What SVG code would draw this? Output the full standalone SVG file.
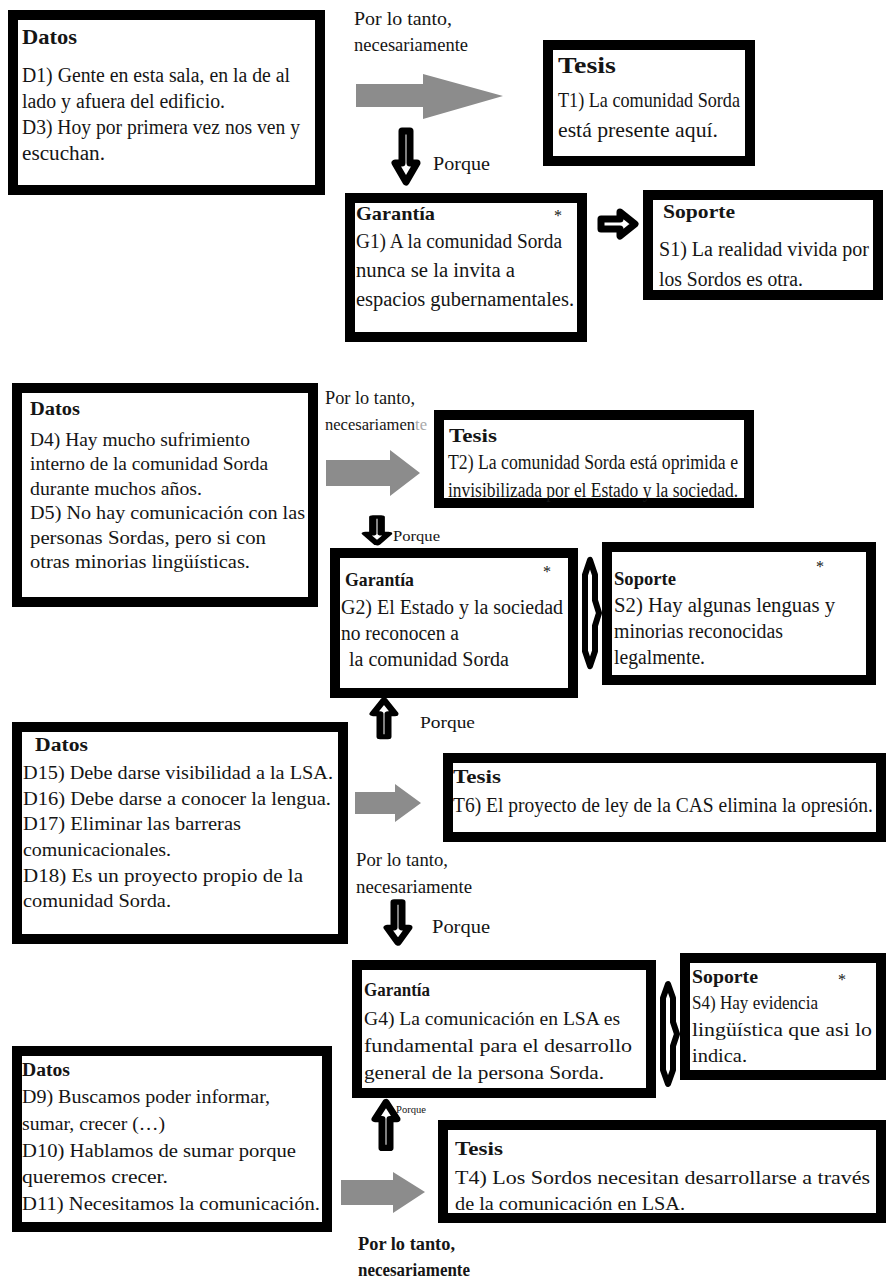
<svg xmlns="http://www.w3.org/2000/svg" xmlns:xlink="http://www.w3.org/1999/xlink" width="890" height="1280" viewBox="0 0 890 1280">
<style>
.box{fill:#fff;stroke:#000;stroke-width:10}
text{font-family:"Liberation Serif","Times New Roman",serif;fill:#151515}
.b{font-weight:bold}
.gray{fill:#8c8c8c}
.oa{fill:#fff;stroke:#000;stroke-width:7;stroke-linejoin:round}
.va{fill:#fff;stroke:#000;stroke-width:6;stroke-linejoin:round}
</style>
<defs>
<path id="dn" class="oa" d="M-4,0 H4 V32 H11 L0,51 L-11,32 H-4 Z"/>
<path id="up" class="oa" d="M-4,51 H4 V19 H11 L0,0 L-11,19 H-4 Z"/>
<path id="rt" class="oa" d="M0,-5 H19 V-12 L34,0 L19,12 V5 H0 Z"/>
<path id="vd" class="va" d="M0,0 L-5,14 V86 L0,100 L5,86 V62 L9,50 L5,38 V14 Z"/>
</defs>
<rect width="890" height="1280" fill="#fff"/>

<g id="connectors">
<polygon class="gray" points="356,84 423,84 423,74 503,96 423,119 423,107 356,107"/>
<use xlink:href="#dn" transform="translate(406,131)"/>
<use xlink:href="#rt" transform="translate(601,224)"/>
<polygon class="gray" points="326,460 390,460 390,450 420,473 390,496 390,486 326,486"/>
<use xlink:href="#dn" transform="translate(377,517) scale(1.05,0.52)"/>
<use xlink:href="#vd" transform="translate(590,560) scale(1,1.06)"/>
<use xlink:href="#up" transform="translate(384,700) scale(1,0.72)"/>
<polygon class="gray" points="355,792 395,792 395,784 421,803 395,822 395,814 355,814"/>
<use xlink:href="#dn" transform="translate(398,902) scale(1,0.8)"/>
<use xlink:href="#vd" transform="translate(668,984)"/>
<use xlink:href="#up" transform="translate(386,1102) scale(1,0.9)"/>
<polygon class="gray" points="341,1180 393,1180 393,1172 425,1192 393,1213 393,1205 341,1205"/>
</g>

<g id="labels">
<text x="354" y="25" font-size="19" textLength="98" lengthAdjust="spacingAndGlyphs">Por lo tanto,</text>
<text x="354" y="51" font-size="19" textLength="114" lengthAdjust="spacingAndGlyphs">necesariamente</text>
<text x="433" y="170" font-size="19" textLength="57" lengthAdjust="spacingAndGlyphs">Porque</text>
<text x="325" y="404" font-size="18" textLength="90" lengthAdjust="spacingAndGlyphs">Por lo tanto,</text>
<text x="325" y="430" font-size="17" textLength="102" lengthAdjust="spacingAndGlyphs">necesariamen<tspan fill="#a8a8a8">te</tspan></text>
<text x="393" y="541" font-size="14" textLength="47" lengthAdjust="spacingAndGlyphs">Porque</text>
<text x="420" y="728" font-size="17" textLength="55" lengthAdjust="spacingAndGlyphs">Porque</text>
<text x="356" y="866" font-size="18" textLength="92" lengthAdjust="spacingAndGlyphs">Por lo tanto,</text>
<text x="356" y="893" font-size="18" textLength="116" lengthAdjust="spacingAndGlyphs">necesariamente</text>
<text x="432" y="933" font-size="18" textLength="58" lengthAdjust="spacingAndGlyphs">Porque</text>
<text x="396" y="1113" font-size="11" textLength="30" lengthAdjust="spacingAndGlyphs">Porque</text>
<text class="b" x="358" y="1250" font-size="18" textLength="97" lengthAdjust="spacingAndGlyphs">Por lo tanto,</text>
<text class="b" x="358" y="1276" font-size="18" textLength="112" lengthAdjust="spacingAndGlyphs">necesariamente</text>
</g>

<g id="datos1">
<rect class="box" x="13" y="15" width="307" height="175"/>
<text class="b" x="22" y="44" font-size="22" textLength="55" lengthAdjust="spacingAndGlyphs">Datos</text>
<text x="22" y="82" font-size="20" textLength="268" lengthAdjust="spacingAndGlyphs">D1) Gente en esta sala, en la de al</text>
<text x="22" y="108" font-size="20" textLength="203" lengthAdjust="spacingAndGlyphs">lado y afuera del edificio.</text>
<text x="22" y="134" font-size="20" textLength="278" lengthAdjust="spacingAndGlyphs">D3) Hoy por primera vez nos ven y</text>
<text x="22" y="160" font-size="20" textLength="83" lengthAdjust="spacingAndGlyphs">escuchan.</text>
</g>

<g id="tesis1">
<rect class="box" x="548" y="45" width="202" height="116"/>
<text class="b" x="558" y="73" font-size="24" textLength="58" lengthAdjust="spacingAndGlyphs">Tesis</text>
<text x="558" y="107" font-size="21" textLength="182" lengthAdjust="spacingAndGlyphs">T1) La comunidad Sorda</text>
<text x="558" y="137" font-size="21" textLength="160" lengthAdjust="spacingAndGlyphs">está presente aquí.</text>
</g>

<g id="garantia1">
<rect class="box" x="350" y="198" width="232" height="139"/>
<text class="b" x="356" y="220" font-size="19" textLength="79" lengthAdjust="spacingAndGlyphs">Garantía</text>
<text x="554" y="221" font-size="16">*</text>
<text x="356" y="248" font-size="20" textLength="206" lengthAdjust="spacingAndGlyphs">G1) A la comunidad Sorda</text>
<text x="356" y="277" font-size="20" textLength="159" lengthAdjust="spacingAndGlyphs">nunca se la invita a</text>
<text x="356" y="306" font-size="20" textLength="218" lengthAdjust="spacingAndGlyphs">espacios gubernamentales.</text>
</g>

<g id="soporte1">
<rect class="box" x="648" y="195" width="230" height="100"/>
<text class="b" x="663" y="218" font-size="19" textLength="72" lengthAdjust="spacingAndGlyphs">Soporte</text>
<text x="659" y="256" font-size="20" textLength="210" lengthAdjust="spacingAndGlyphs">S1) La realidad vivida por</text>
<text x="659" y="286" font-size="20" textLength="144" lengthAdjust="spacingAndGlyphs">los Sordos es otra.</text>
</g>

<g id="datos2">
<rect class="box" x="17" y="388" width="296" height="214"/>
<text class="b" x="30" y="415" font-size="18" textLength="50" lengthAdjust="spacingAndGlyphs">Datos</text>
<text x="30" y="446" font-size="19" textLength="220" lengthAdjust="spacingAndGlyphs">D4) Hay mucho sufrimiento</text>
<text x="30" y="470" font-size="19" textLength="238" lengthAdjust="spacingAndGlyphs">interno de la comunidad Sorda</text>
<text x="30" y="495" font-size="19" textLength="172" lengthAdjust="spacingAndGlyphs">durante muchos años.</text>
<text x="30" y="519" font-size="19" textLength="275" lengthAdjust="spacingAndGlyphs">D5) No hay comunicación con las</text>
<text x="30" y="544" font-size="19" textLength="236" lengthAdjust="spacingAndGlyphs">personas Sordas, pero si con</text>
<text x="30" y="568" font-size="19" textLength="220" lengthAdjust="spacingAndGlyphs">otras minorias lingüísticas.</text>
</g>

<g id="tesis2">
<rect class="box" x="439" y="415" width="310" height="88"/>
<text class="b" x="449" y="442" font-size="19" textLength="48" lengthAdjust="spacingAndGlyphs">Tesis</text>
<text x="448" y="469" font-size="20" textLength="290" lengthAdjust="spacingAndGlyphs">T2) La comunidad Sorda está oprimida e</text>
<text x="448" y="497" font-size="20" textLength="290" lengthAdjust="spacingAndGlyphs">invisibilizada por el Estado y la sociedad.</text>
</g>

<g id="garantia2">
<rect class="box" x="335" y="553" width="238" height="140"/>
<text class="b" x="345" y="586" font-size="19" textLength="69" lengthAdjust="spacingAndGlyphs">Garantía</text>
<text x="543" y="577" font-size="16">*</text>
<text x="341" y="614" font-size="20" textLength="222" lengthAdjust="spacingAndGlyphs">G2) El Estado y la sociedad</text>
<text x="341" y="640" font-size="20" textLength="118" lengthAdjust="spacingAndGlyphs">no reconocen a</text>
<text x="349" y="666" font-size="20" textLength="160" lengthAdjust="spacingAndGlyphs">la comunidad Sorda</text>
</g>

<g id="soporte2">
<rect class="box" x="607" y="547" width="264" height="133"/>
<text class="b" x="614" y="585" font-size="19" textLength="62" lengthAdjust="spacingAndGlyphs">Soporte</text>
<text x="816" y="572" font-size="16">*</text>
<text x="614" y="612" font-size="20" textLength="221" lengthAdjust="spacingAndGlyphs">S2) Hay algunas lenguas y</text>
<text x="614" y="638" font-size="20" textLength="169" lengthAdjust="spacingAndGlyphs">minorias reconocidas</text>
<text x="614" y="664" font-size="20" textLength="91" lengthAdjust="spacingAndGlyphs">legalmente.</text>
</g>

<g id="datos3">
<rect class="box" x="17" y="727" width="326" height="212"/>
<text class="b" x="35" y="751" font-size="18" textLength="53" lengthAdjust="spacingAndGlyphs">Datos</text>
<text x="23" y="779" font-size="19" textLength="310" lengthAdjust="spacingAndGlyphs">D15) Debe darse visibilidad a la LSA.</text>
<text x="23" y="805" font-size="19" textLength="308" lengthAdjust="spacingAndGlyphs">D16) Debe darse a conocer la lengua.</text>
<text x="23" y="830" font-size="19" textLength="218" lengthAdjust="spacingAndGlyphs">D17) Eliminar las barreras</text>
<text x="23" y="856" font-size="19" textLength="148" lengthAdjust="spacingAndGlyphs">comunicacionales.</text>
<text x="23" y="882" font-size="19" textLength="280" lengthAdjust="spacingAndGlyphs">D18) Es un proyecto propio de la</text>
<text x="23" y="907" font-size="19" textLength="148" lengthAdjust="spacingAndGlyphs">comunidad Sorda.</text>
</g>

<g id="tesis6">
<rect class="box" x="448" y="758" width="433" height="79"/>
<text class="b" x="453" y="783" font-size="19" textLength="48" lengthAdjust="spacingAndGlyphs">Tesis</text>
<text x="453" y="812" font-size="20" textLength="420" lengthAdjust="spacingAndGlyphs">T6) El proyecto de ley de la CAS elimina la opresión.</text>
</g>

<g id="garantia4">
<rect class="box" x="357" y="965" width="294" height="128"/>
<text class="b" x="364" y="996" font-size="18" textLength="66" lengthAdjust="spacingAndGlyphs">Garantía</text>
<text x="364" y="1025" font-size="19" textLength="256" lengthAdjust="spacingAndGlyphs">G4) La comunicación en LSA es</text>
<text x="364" y="1052" font-size="19" textLength="268" lengthAdjust="spacingAndGlyphs">fundamental para el desarrollo</text>
<text x="364" y="1079" font-size="19" textLength="240" lengthAdjust="spacingAndGlyphs">general de la persona Sorda.</text>
</g>

<g id="soporte4">
<rect class="box" x="685" y="958" width="196" height="117"/>
<text class="b" x="692" y="983" font-size="18" textLength="66" lengthAdjust="spacingAndGlyphs">Soporte</text>
<text x="838" y="985" font-size="16">*</text>
<text x="692" y="1009" font-size="19" textLength="126" lengthAdjust="spacingAndGlyphs">S4) Hay evidencia</text>
<text x="692" y="1036" font-size="19" textLength="180" lengthAdjust="spacingAndGlyphs">lingüística que asi lo</text>
<text x="692" y="1062" font-size="19" textLength="55" lengthAdjust="spacingAndGlyphs">indica.</text>
</g>

<g id="datos4">
<rect class="box" x="17" y="1051" width="310" height="176"/>
<text class="b" x="22" y="1076" font-size="18" textLength="48" lengthAdjust="spacingAndGlyphs">Datos</text>
<text x="22" y="1103" font-size="19" textLength="248" lengthAdjust="spacingAndGlyphs">D9) Buscamos poder informar,</text>
<text x="22" y="1130" font-size="19" textLength="143" lengthAdjust="spacingAndGlyphs">sumar, crecer (…)</text>
<text x="22" y="1157" font-size="19" textLength="274" lengthAdjust="spacingAndGlyphs">D10) Hablamos de sumar porque</text>
<text x="22" y="1183" font-size="19" textLength="146" lengthAdjust="spacingAndGlyphs">queremos crecer.</text>
<text x="22" y="1210" font-size="19" textLength="298" lengthAdjust="spacingAndGlyphs">D11) Necesitamos la comunicación.</text>
</g>

<g id="tesis4">
<rect class="box" x="443" y="1125" width="438" height="93"/>
<text class="b" x="455" y="1155" font-size="19" textLength="48" lengthAdjust="spacingAndGlyphs">Tesis</text>
<text x="455" y="1184" font-size="19" textLength="415" lengthAdjust="spacingAndGlyphs">T4) Los Sordos necesitan desarrollarse a través</text>
<text x="455" y="1210" font-size="19" textLength="230" lengthAdjust="spacingAndGlyphs">de la comunicación en LSA.</text>
</g>
</svg>
